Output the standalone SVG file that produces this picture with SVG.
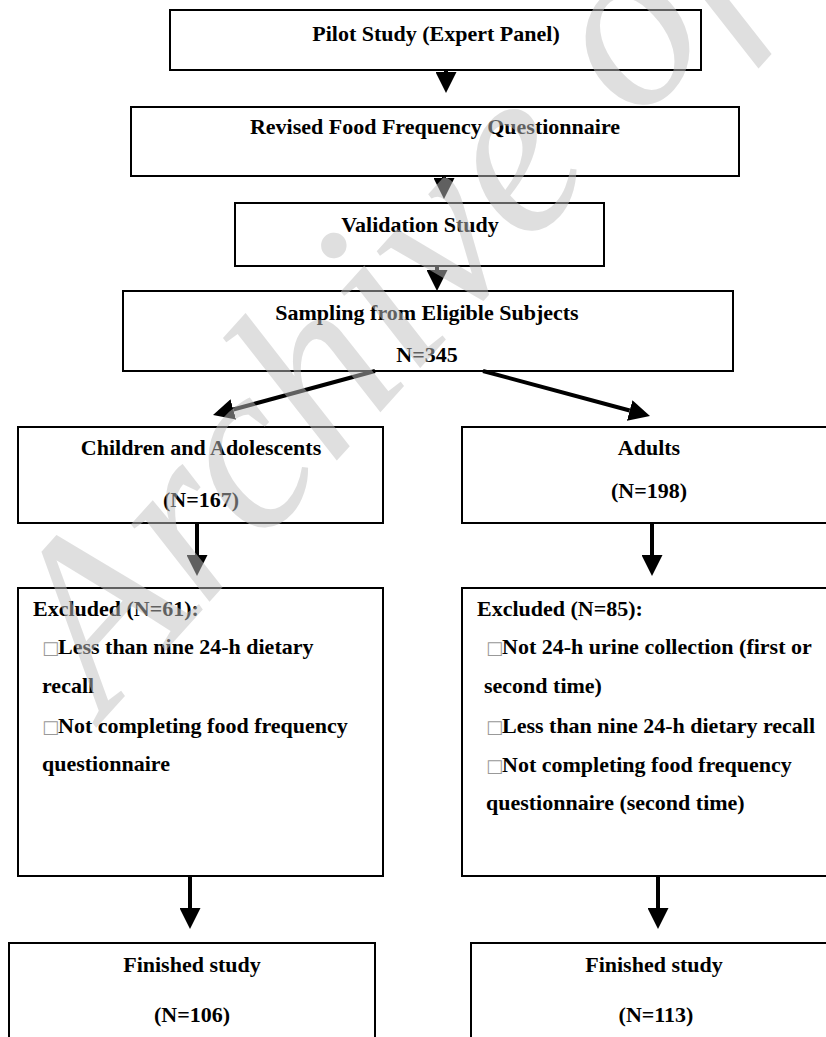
<svg xmlns="http://www.w3.org/2000/svg" width="826" height="1037" viewBox="0 0 826 1037">
<style>
.box{fill:#fff;stroke:#000;stroke-width:2}
.t{font-family:"Liberation Serif","Times New Roman",serif;font-weight:bold;font-size:22px;fill:#000}
.c{text-anchor:middle}
.bx{font-family:"DejaVu Sans",sans-serif;font-weight:normal;font-size:18px;fill:#999}
.conn line{stroke:#000;stroke-width:4}
.wm{font-family:"Liberation Serif","Times New Roman",serif;font-weight:normal;font-style:italic;font-size:240px;fill:#c0c0c0;opacity:.5}
</style>
<defs>
<marker id="ah" viewBox="0 0 21 21" refX="0" refY="10.5" markerWidth="21" markerHeight="21" markerUnits="userSpaceOnUse" orient="auto">
<path d="M0,0 L21,10.5 L0,21 z" fill="#000"/>
</marker>
</defs>
<rect width="826" height="1037" fill="#fff"/>
<g id="n1"><rect class="box" x="170" y="10" width="531" height="60"/><text class="t c" x="436" y="41">Pilot Study (Expert Panel)</text></g>
<g id="n2"><rect class="box" x="131" y="107" width="608" height="69"/><text class="t c" x="435" y="134">Revised Food Frequency Questionnaire</text></g>
<g id="n3"><rect class="box" x="235" y="203" width="369" height="63"/><text class="t c" x="420" y="232">Validation Study</text></g>
<g id="n4"><rect class="box" x="123" y="291" width="610" height="80"/><text class="t c" x="427" y="320">Sampling from Eligible Subjects</text><text class="t c" x="427" y="362">N=345</text></g>
<g id="n5"><rect class="box" x="18" y="427" width="365" height="96"/><text class="t c" x="201" y="455">Children and Adolescents</text><text class="t c" x="201" y="507">(N=167)</text></g>
<g id="n6"><rect class="box" x="462" y="427" width="380" height="96"/><text class="t c" x="649" y="455">Adults</text><text class="t c" x="649" y="498">(N=198)</text></g>
<g id="n7"><rect class="box" x="18" y="588" width="365" height="288"/>
<text class="t" x="33" y="616">Excluded (N=61):</text>
<text class="t" y="654"><tspan class="bx" x="42">□</tspan><tspan x="58">Less than nine 24-h dietary</tspan></text>
<text class="t" x="42" y="693">recall</text>
<text class="t" y="733"><tspan class="bx" x="42">□</tspan><tspan x="58">Not completing food frequency</tspan></text>
<text class="t" x="42" y="771">questionnaire</text>
</g>
<g id="n8"><rect class="box" x="462" y="588" width="380" height="288"/>
<text class="t" x="477" y="616">Excluded (N=85):</text>
<text class="t" y="654"><tspan class="bx" x="486">□</tspan><tspan x="502">Not 24-h urine collection (first or</tspan></text>
<text class="t" x="484" y="693">second time)</text>
<text class="t" y="733"><tspan class="bx" x="486">□</tspan><tspan x="502">Less than nine 24-h dietary recall</tspan></text>
<text class="t" y="772"><tspan class="bx" x="486">□</tspan><tspan x="502">Not completing food frequency</tspan></text>
<text class="t" x="486" y="810">questionnaire (second time)</text>
</g>
<g id="n9"><rect class="box" x="9" y="943" width="366" height="110"/><text class="t c" x="192" y="972">Finished study</text><text class="t c" x="192" y="1022">(N=106)</text></g>
<g id="n10"><rect class="box" x="471" y="943" width="380" height="110"/><text class="t c" x="654" y="972">Finished study</text><text class="t c" x="656" y="1022">(N=113)</text></g>
<g id="connectors" class="conn">
<line x1="446" y1="70" x2="446" y2="72" marker-end="url(#ah)"/>
<line x1="444" y1="176" x2="444" y2="178" marker-end="url(#ah)"/>
<line x1="437" y1="266" x2="437" y2="270" marker-end="url(#ah)"/>
<line x1="375" y1="371" x2="233.3" y2="409.5" marker-end="url(#ah)"/>
<line x1="483" y1="371" x2="629.7" y2="410.5" marker-end="url(#ah)"/>
<line x1="197" y1="523" x2="197" y2="555" marker-end="url(#ah)"/>
<line x1="652" y1="523" x2="652" y2="555" marker-end="url(#ah)"/>
<line x1="190" y1="876" x2="190" y2="908" marker-end="url(#ah)"/>
<line x1="658" y1="876" x2="658" y2="908" marker-end="url(#ah)"/>
</g>
<text class="wm" x="105" y="718" transform="rotate(-48 105 718)">Archive of S</text>
</svg>
